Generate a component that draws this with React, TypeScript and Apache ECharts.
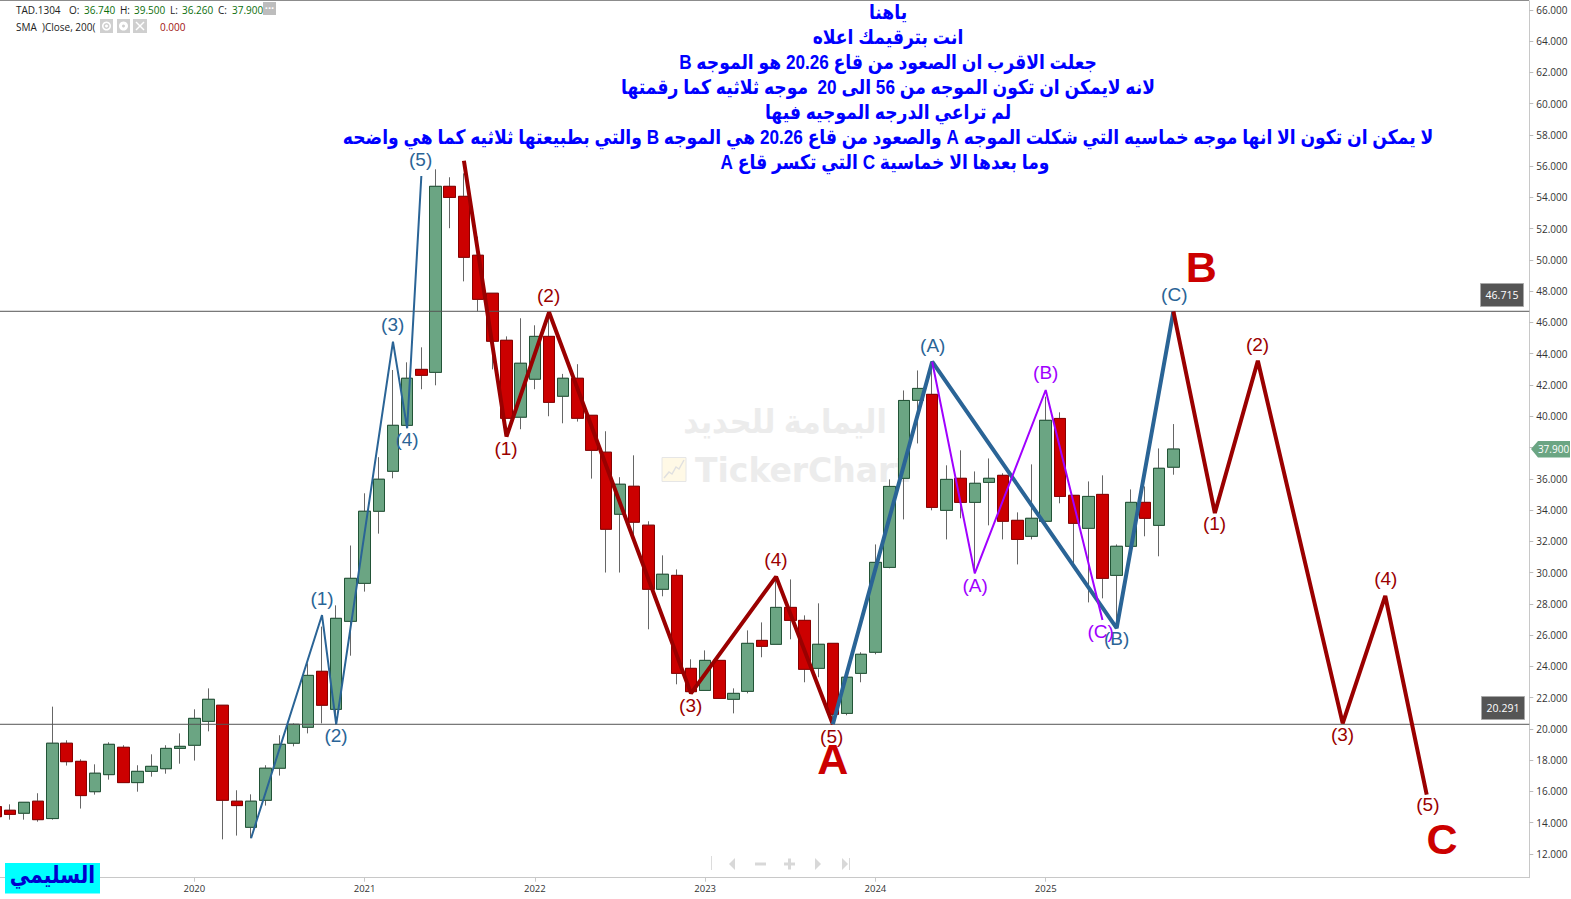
import React, { useEffect, useRef } from "react";
import * as echarts from "echarts";

const WIDTH = 1571;
const HEIGHT = 899;

// monthly candles, index 0 = Nov 2018
const opens = [15.02,14.79,14.60,15.37,14.26,19.08,17.92,15.98,17.07,18.82,16.56,17.28,17.45,18.75,18.95,20.48,21.51,15.37,13.70,15.43,17.48,19.08,20.10,23.68,21.25,26.88,29.31,33.92,36.48,39.42,43.00,42.81,54.71,54.07,50.30,47.87,44.86,39.94,42.37,45.11,41.28,42.43,40.06,37.70,33.73,35.52,33.03,28.93,29.82,23.87,22.46,24.38,21.89,22.40,25.66,25.41,27.77,26.94,23.87,25.47,20.99,23.55,24.90,30.33,36.03,41.02,41.40,33.98,36.03,34.49,35.77,36.22,33.34,32.32,33.28,39.86,34.94,32.83,35.00,29.82,31.68,34.49,33.02,36.74];
const closes = [14.38,14.53,15.30,14.19,19.08,17.90,15.73,17.16,19.01,16.56,17.28,17.60,18.75,18.88,20.67,21.89,15.43,15.09,15.37,17.48,19.01,20.29,23.42,21.51,27.07,29.63,33.92,35.97,39.42,42.43,42.62,54.71,54.00,50.17,47.48,44.80,39.87,43.39,45.11,40.89,42.43,39.87,37.82,32.77,35.65,33.22,28.93,29.89,23.55,22.38,24.38,21.95,22.27,25.47,25.28,27.77,26.94,23.81,25.41,20.93,23.30,24.77,30.65,35.51,41.01,41.78,34.17,35.96,34.49,35.71,36.03,33.28,32.12,33.47,39.74,34.87,33.15,34.87,29.63,31.68,34.49,33.47,36.67,37.90];
const lows = [14.38,14.19,14.19,14.06,14.19,17.65,14.90,15.79,16.75,16.56,15.98,16.94,17.13,17.77,17.97,19.84,12.93,13.17,13.00,15.09,17.01,18.88,19.71,20.35,20.29,24.68,28.78,32.49,36.03,39.42,41.73,41.98,52.03,48.63,46.72,43.00,39.87,39.17,41.73,40.00,39.55,39.66,36.01,30.00,30.00,32.29,26.37,28.48,22.85,22.38,22.46,21.95,20.99,22.27,24.58,25.41,25.73,22.98,23.30,20.30,20.87,22.98,24.77,30.27,33.40,38.26,33.98,32.12,33.47,29.95,33.02,32.12,30.52,32.12,33.28,34.43,30.59,28.09,28.35,26.75,31.68,32.32,31.04,36.26];
const highs = [15.02,15.17,15.30,15.88,21.42,19.27,18.05,17.73,19.14,18.95,17.67,18.37,18.95,19.71,21.25,22.59,21.51,16.07,15.81,17.67,19.59,20.35,24.19,26.54,27.90,31.73,35.07,37.38,42.96,43.45,44.41,55.80,55.29,55.54,51.49,47.87,45.11,46.27,45.82,46.59,42.71,43.33,40.06,39.04,36.10,37.50,33.28,31.10,30.20,24.45,25.02,24.38,22.59,26.30,26.81,29.52,29.56,27.26,28.03,25.47,23.30,24.90,31.80,35.96,41.65,42.93,43.49,36.86,37.82,36.47,37.30,36.35,33.85,36.92,41.25,40.25,34.94,35.83,36.22,31.80,35.32,35.51,37.94,39.50];

const yearTicks = [14, 26, 38, 50, 62, 74];
const yearLabels = ["2020", "2021", "2022", "2023", "2024", "2025"];
const priceTicks = [12,14,16,18,20,22,24,26,28,30,32,34,36,38,40,42,44,46,48,50,52,54,56,58,60,62,64,66];

const X_MIN = 0.307;
const X_MAX = 108.08;
const Y_MIN = 10.476;
const Y_MAX = 66.568;

const levelHigh = 46.715;
const levelLow = 20.291;

// wave paths: [month index, price]
const blueThinWave = [[18,13.0],[23,27.28],[24,20.29],[28,44.78],[29,39.23],[30,55.37]];
const redDownWave = [[33,56.35],[36,38.70],[39,46.65],[49,22.27],[55,29.74],[59,20.291]];
const blueThickWave = [[59,20.291],[66,43.49],[79,26.45],[83,46.715]];
const purpleWave = [[66,43.49],[69,29.95],[74,41.68],[78,26.97]];
const redFutureWave = [[83,46.715],[85.92,33.81],[88.95,43.55],[94.93,20.35],[97.93,28.5],[100.85,15.79]];

// wave labels: [month index, price, text]
const blueLabels = [[23,28.24,"(1)"],[23.99,19.50,"(2)"],[27.98,45.77,"(3)"],[28.99,38.43,"(4)"],[29.95,56.33,"(5)"],[66.04,44.45,"(A)"],[79,25.68,"(B)"],[83.06,47.72,"(C)"]];
const redLabels = [[35.97,37.84,"(1)"],[38.97,47.65,"(2)"],[48.98,21.42,"(3)"],[54.99,30.74,"(4)"],[58.92,19.43,"(5)"],[85.9,33.04,"(1)"],[88.93,44.51,"(2)"],[94.92,19.57,"(3)"],[97.97,29.52,"(4)"],[100.93,15.09,"(5)"]];
const purpleLabels = [[69.02,29.09,"(A)"],[74,42.70,"(B)"],[77.87,26.15,"(C)"]];
const bigLabels = [[58.99,17.97,"A"],[84.97,49.45,"B"],[101.93,12.84,"C"]];

const noteLines = [
  "ياهنا",
  "انت بترقيمك اعلاه",
  "جعلت الاقرب ان الصعود من قاع 20.26 هو الموجه B",
  "لانه لايمكن ان تكون الموجه من 56 الى 20  موجه ثلاثيه كما رقمتها",
  "لم تراعي الدرجه الموجيه فيها",
  "لا يمكن ان تكون الا انها موجه خماسيه التي شكلت الموجه A والصعود من قاع 20.26 هي الموجه B والتي بطبيعتها ثلاثيه كما هي واضحه",
  "وما بعدها الا خماسية C التي تكسر قاع A",
];
const noteY = [12, 37, 62, 87, 112, 137, 162];
const noteX = [888, 888, 888, 888, 888, 888, 885];

const SANS = '"Open Sans", "Liberation Sans", sans-serif';
const ARABIC = '"Liberation Sans", "DejaVu Sans", sans-serif';
const GREEN = "#6BA583";
const GREEN_EDGE = "#225437";
const RED = "#CC0000";
const RED_EDGE = "#8A0000";
const WICK = "#666666";
const BLUE_WAVE = "#2A6496";
const RED_WAVE = "#9A0000";
const PURPLE = "#A000FF";

function txt(x: number, y: number, text: string, fill: string, fontSize = 10, extra: any = {}) {
  return {
    type: "text",
    x,
    y,
    scaleX: extra.scaleX ?? 1,
    z: extra.z ?? 30,
    silent: true,
    style: {
      text,
      fill,
      fontSize,
      fontFamily: extra.fontFamily ?? SANS,
      fontWeight: extra.fontWeight ?? "normal",
      textAlign: extra.align ?? "left",
      textVerticalAlign: "middle",
    },
  };
}

function rect(x: number, y: number, w: number, h: number, fill: string, stroke?: string, z = 30) {
  return { type: "rect", z, silent: true, shape: { x, y, width: w, height: h }, style: { fill, stroke: stroke ?? "none", lineWidth: stroke ? 1 : 0 } };
}

function line(x1: number, y1: number, x2: number, y2: number, stroke: string, lineWidth = 1, z = 30) {
  return { type: "line", z, silent: true, shape: { x1, y1, x2, y2 }, style: { stroke, lineWidth } };
}

function poly(points: number[][], fill: string, z = 30) {
  return { type: "polygon", z, silent: true, shape: { points }, style: { fill } };
}

function waveSeries(name: string, data: number[][], color: string, width: number) {
  return {
    name,
    type: "line",
    data,
    z: 5,
    symbol: "none",
    silent: true,
    lineStyle: { color, width, join: "bevel" },
  };
}

function labelSeries(name: string, data: any[], color: string, fontSize: number, fontWeight = "normal") {
  return {
    name,
    type: "scatter",
    data,
    z: 6,
    symbolSize: 1,
    silent: true,
    itemStyle: { color: "transparent", opacity: 1 },
    label: {
      show: true,
      position: "inside",
      offset: [0, -1.5],
      formatter: (p: any) => p.data[2],
      color,
      fontSize,
      fontWeight,
      fontFamily: '"Liberation Sans", sans-serif',
    },
  };
}

export default function App() {
  const ref = useRef<HTMLDivElement>(null);

  useEffect(() => {
    document.body.style.margin = "0";
    const chart = echarts.init(ref.current!, undefined, { renderer: "svg" });

    const wickData = opens.map((o, i) => [i, o, closes[i], lows[i], highs[i]]);
    const bodyData = opens.map((o, i) => [i, o, closes[i], Math.min(o, closes[i]), Math.max(o, closes[i])]);

    const graphics: any[] = [
      line(0, 0.5, 1529, 0.5, "#8C8C8C", 1, 30),

      // watermark
      txt(785, 422, "اليمامة للحديد", "#ECECEC", 33, { z: 0, align: "center", fontWeight: "bold", fontFamily: ARABIC, scaleX: 0.92 }),
      { ...rect(662, 457.5, 24, 24, "#FFF9E6", "#E6E6E6", 0) },
      { type: "polyline", z: 0, silent: true, shape: { points: [[664,478],[669,472],[672,474],[676,467],[679,469],[684,460]] }, style: { stroke: "#E0E0E0", fill: "none", lineWidth: 1.5 } },
      txt(695, 470, "TickerChart", "#ECECEC", 33, { z: 0, fontWeight: "bold", fontFamily: '"DejaVu Sans", sans-serif' }),

      // legend, first row
      txt(16, 10, "TAD.1304", "#222222"),
      txt(69, 10, "O:", "#222222"),
      txt(84, 10, "36.740", "#0A6E0A"),
      txt(120, 10, "H:", "#222222"),
      txt(134, 10, "39.500", "#0A6E0A"),
      txt(170, 10, "L:", "#222222"),
      txt(182, 10, "36.260", "#0A6E0A"),
      txt(218, 10, "C:", "#222222"),
      txt(232, 10, "37.900", "#0A6E0A"),
      rect(263, 2, 13, 13, "#BDBDBD"),
      txt(269.5, 7, "···", "#FFFFFF", 11, { align: "center", fontWeight: "bold" }),

      // legend, second row
      txt(16, 26.5, "SMA  )Close, 200(", "#222222"),
      rect(100, 19, 13, 14, "#CFCFCF"),
      { type: "ring", z: 30, silent: true, shape: { cx: 106.5, cy: 26, r: 4.5, r0: 3 }, style: { fill: "#FFFFFF" } },
      { type: "circle", z: 30, silent: true, shape: { cx: 106.5, cy: 26, r: 1.5 }, style: { fill: "#FFFFFF" } },
      rect(117, 19, 13, 14, "#CFCFCF"),
      { type: "ring", z: 30, silent: true, shape: { cx: 123.5, cy: 26, r: 4.5, r0: 1.5 }, style: { fill: "#FFFFFF" } },
      rect(133, 19, 14, 14, "#CFCFCF"),
      line(136, 22, 144, 30, "#FFFFFF", 1.5),
      line(144, 22, 136, 30, "#FFFFFF", 1.5),
      txt(160, 26.5, "0.000", "#A01010"),

      // price tags
      rect(1480.5, 283.5, 43, 23, "#555555", "#A8A8A8", 30),
      txt(1502, 295, "46.715", "#FFFFFF", 10.5, { align: "center" }),
      rect(1481.5, 696.5, 43, 23, "#555555", "#A8A8A8", 30),
      txt(1503, 708, "20.291", "#FFFFFF", 10.5, { align: "center" }),
      poly([[1531,449],[1538,441],[1570,441],[1570,457.5],[1538,457.5]], GREEN),
      txt(1553.5, 449, "37.900", "#FFFFFF", 10, { align: "center" }),

      // signature box
      rect(5, 863, 95, 30.5, "#00FFFF"),
      txt(52.5, 875, "السليمي", "#0000CC", 24, { align: "center", fontWeight: "bold", fontFamily: ARABIC, scaleX: 0.84 }),

      // navigator
      line(711.5, 856, 711.5, 870, "#DCDCDC", 1),
      poly([[729,864],[735,858],[735,870]], "#D8D8D8"),
      rect(755, 862.5, 11, 3, "#D8D8D8"),
      rect(784, 862.5, 11, 3, "#D8D8D8"),
      rect(788, 858.5, 3, 11, "#D8D8D8"),
      poly([[815,858],[821,864],[815,870]], "#D8D8D8"),
      poly([[842,858],[848,864],[842,870]], "#D8D8D8"),
      line(849.5, 858, 849.5, 870, "#D8D8D8", 1),

      // note text
      ...noteLines.map((t, i) =>
        txt(noteX[i], noteY[i], "\u202B" + t + "\u202C", "#0000FF", 20, { align: "center", fontWeight: "bold", fontFamily: ARABIC, z: 40, scaleX: 0.858 })
      ),
    ];

    chart.setOption({
      animation: false,
      backgroundColor: "#FFFFFF",
      grid: { left: 0, right: 41.7, top: 1, bottom: 21.3, containLabel: false },
      xAxis: {
        type: "value",
        min: X_MIN,
        max: X_MAX,
        splitLine: { show: false },
        axisLine: { show: true, onZero: false, lineStyle: { color: "#C8C8C8" } },
        axisTick: { show: true, length: 4, lineStyle: { color: "#C8C8C8" }, customValues: yearTicks },
        axisLabel: {
          show: true,
          customValues: yearTicks,
          formatter: (v: number) => yearLabels[yearTicks.indexOf(v)] ?? "",
          color: "#333333",
          fontSize: 9.5,
          fontFamily: SANS,
          margin: 6,
        },
      },
      yAxis: {
        type: "value",
        position: "right",
        min: Y_MIN,
        max: Y_MAX,
        splitLine: { show: false },
        axisLine: { show: true, onZero: false, lineStyle: { color: "#C8C8C8" } },
        axisTick: { show: true, length: 4, lineStyle: { color: "#BBBBBB" }, customValues: priceTicks },
        axisLabel: {
          show: true,
          customValues: priceTicks,
          formatter: (v: number) => v.toFixed(3),
          color: "#333333",
          fontSize: 10,
          fontFamily: SANS,
          margin: 7,
          padding: [0, 0, 2, 0],
        },
      },
      graphic: { elements: graphics },
      series: [
        {
          name: "wicks",
          type: "candlestick",
          data: wickData,
          z: 2,
          barWidth: 12,
          silent: true,
          itemStyle: { color: "transparent", color0: "transparent", borderColor: WICK, borderColor0: WICK, borderWidth: 1 },
        },
        {
          name: "bodies",
          type: "candlestick",
          data: bodyData,
          z: 3,
          barWidth: 12,
          silent: true,
          itemStyle: { color: GREEN, color0: RED, borderColor: GREEN_EDGE, borderColor0: RED_EDGE, borderWidth: 1 },
        },
        waveSeries("level high", [[X_MIN, levelHigh], [X_MAX, levelHigh]], "#555555", 1),
        waveSeries("level low", [[X_MIN, levelLow], [X_MAX, levelLow]], "#555555", 1),
        waveSeries("blue thin", blueThinWave, BLUE_WAVE, 2),
        waveSeries("red down", redDownWave, RED_WAVE, 4),
        waveSeries("blue thick", blueThickWave, BLUE_WAVE, 4),
        waveSeries("purple", purpleWave, PURPLE, 2),
        waveSeries("red future", redFutureWave, RED_WAVE, 4),
        labelSeries("blue labels", blueLabels, BLUE_WAVE, 19),
        labelSeries("red labels", redLabels, RED_WAVE, 19),
        labelSeries("purple labels", purpleLabels, PURPLE, 19),
        labelSeries("big labels", bigLabels, RED, 43, "bold"),
      ],
    });

    return () => chart.dispose();
  }, []);

  return <div ref={ref} style={{ position: "absolute", left: 0, top: 0, width: WIDTH, height: HEIGHT }} />;
}
